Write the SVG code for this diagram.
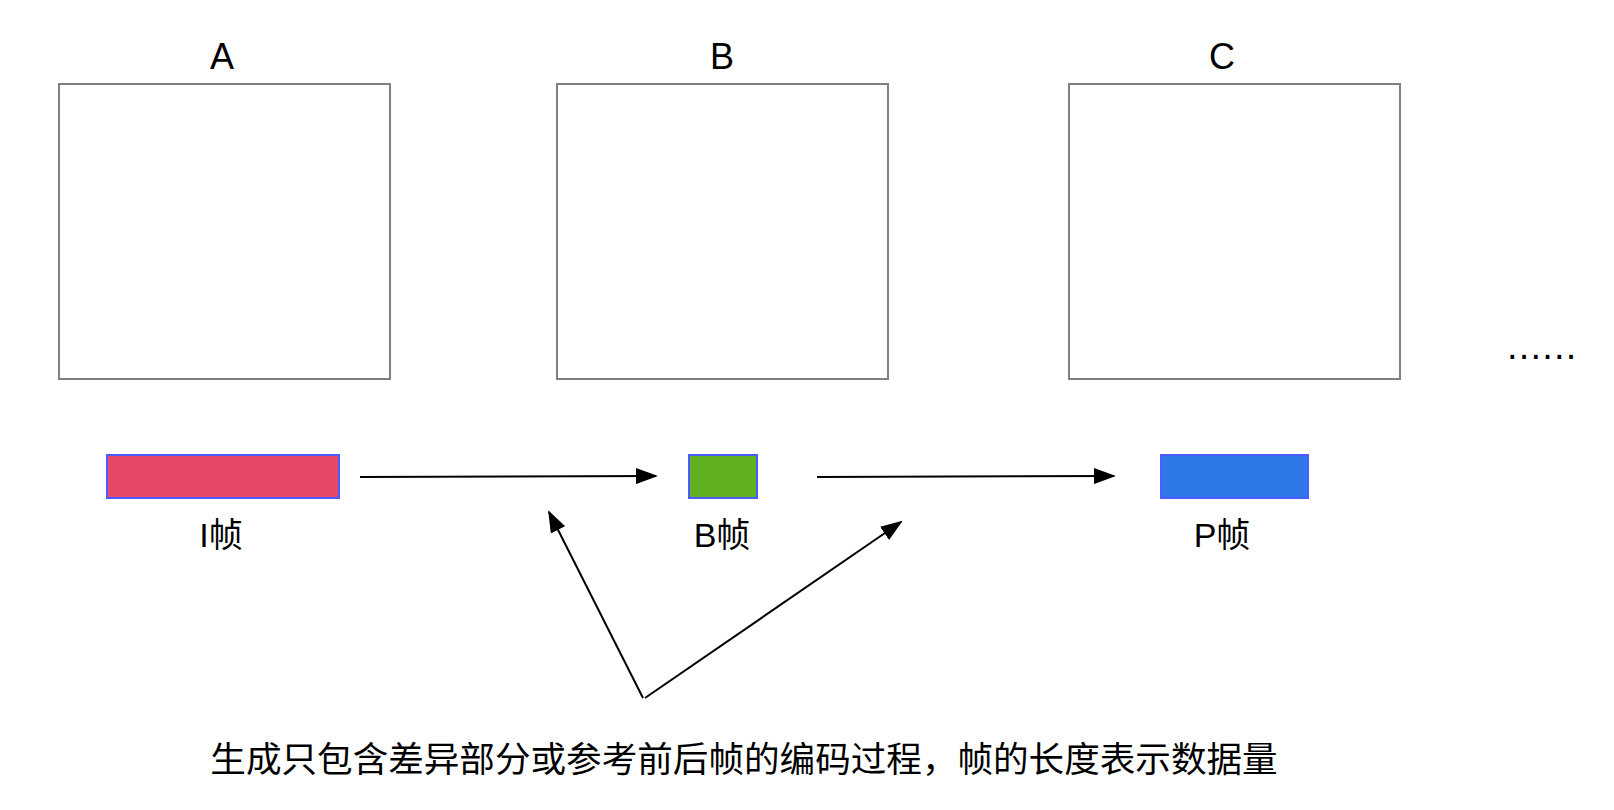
<svg xmlns="http://www.w3.org/2000/svg" width="1614" height="810" viewBox="0 0 1614 810">
<style>
.frame{fill:#ffffff;stroke:#808080;stroke-width:2}
.lbl{font-family:"Liberation Sans","Noto Sans CJK SC",sans-serif;fill:#000;text-anchor:middle}
.bar{stroke:#4a5cff;stroke-width:2}
.conn{stroke:#000;stroke-width:2;fill:none}
</style>
<defs>
<marker id="ah" markerWidth="22" markerHeight="16" refX="20" refY="8" orient="auto" markerUnits="userSpaceOnUse">
<path d="M0,0 L22,8 L0,16 Z" fill="#000"/>
</marker>
</defs>
<rect width="1614" height="810" fill="#ffffff"/>
<g id="frameA">
<rect class="frame" x="59" y="84" width="331" height="295"/>
<text class="lbl" x="222" y="69" font-size="36">A</text>
</g>
<g id="frameB">
<rect class="frame" x="557" y="84" width="331" height="295"/>
<text class="lbl" x="722" y="69" font-size="36">B</text>
</g>
<g id="frameC">
<rect class="frame" x="1069" y="84" width="331" height="295"/>
<text class="lbl" x="1222" y="69" font-size="36">C</text>
</g>
<g id="iframe">
<rect class="bar" x="107" y="455" width="232" height="43" fill="#e7486a"/>
<text class="lbl" x="221" y="547" font-size="34">I帧</text>
</g>
<g id="bframe">
<rect class="bar" x="689" y="455" width="68" height="43" fill="#60b020"/>
<text class="lbl" x="722" y="547" font-size="34">B帧</text>
</g>
<g id="pframe">
<rect class="bar" x="1161" y="455" width="147" height="43" fill="#2f78e8"/>
<text class="lbl" x="1222" y="547" font-size="34">P帧</text>
</g>
<g id="dots">
<text x="1507" y="359" font-family="Liberation Sans, sans-serif" font-size="38" letter-spacing="1.2" fill="#000">......</text>
</g>
<g id="caption">
<text class="lbl" x="744" y="772" font-size="35.6">生成只包含差异部分或参考前后帧的编码过程，帧的长度表示数据量</text>
</g>
<g id="connectors">
<line class="conn" x1="360" y1="477" x2="656" y2="476" marker-end="url(#ah)"/>
<line class="conn" x1="817" y1="477" x2="1114" y2="476" marker-end="url(#ah)"/>
<line class="conn" x1="643" y1="698" x2="549" y2="512" marker-end="url(#ah)"/>
<line class="conn" x1="645" y1="698" x2="901" y2="522" marker-end="url(#ah)"/>
</g>
</svg>
